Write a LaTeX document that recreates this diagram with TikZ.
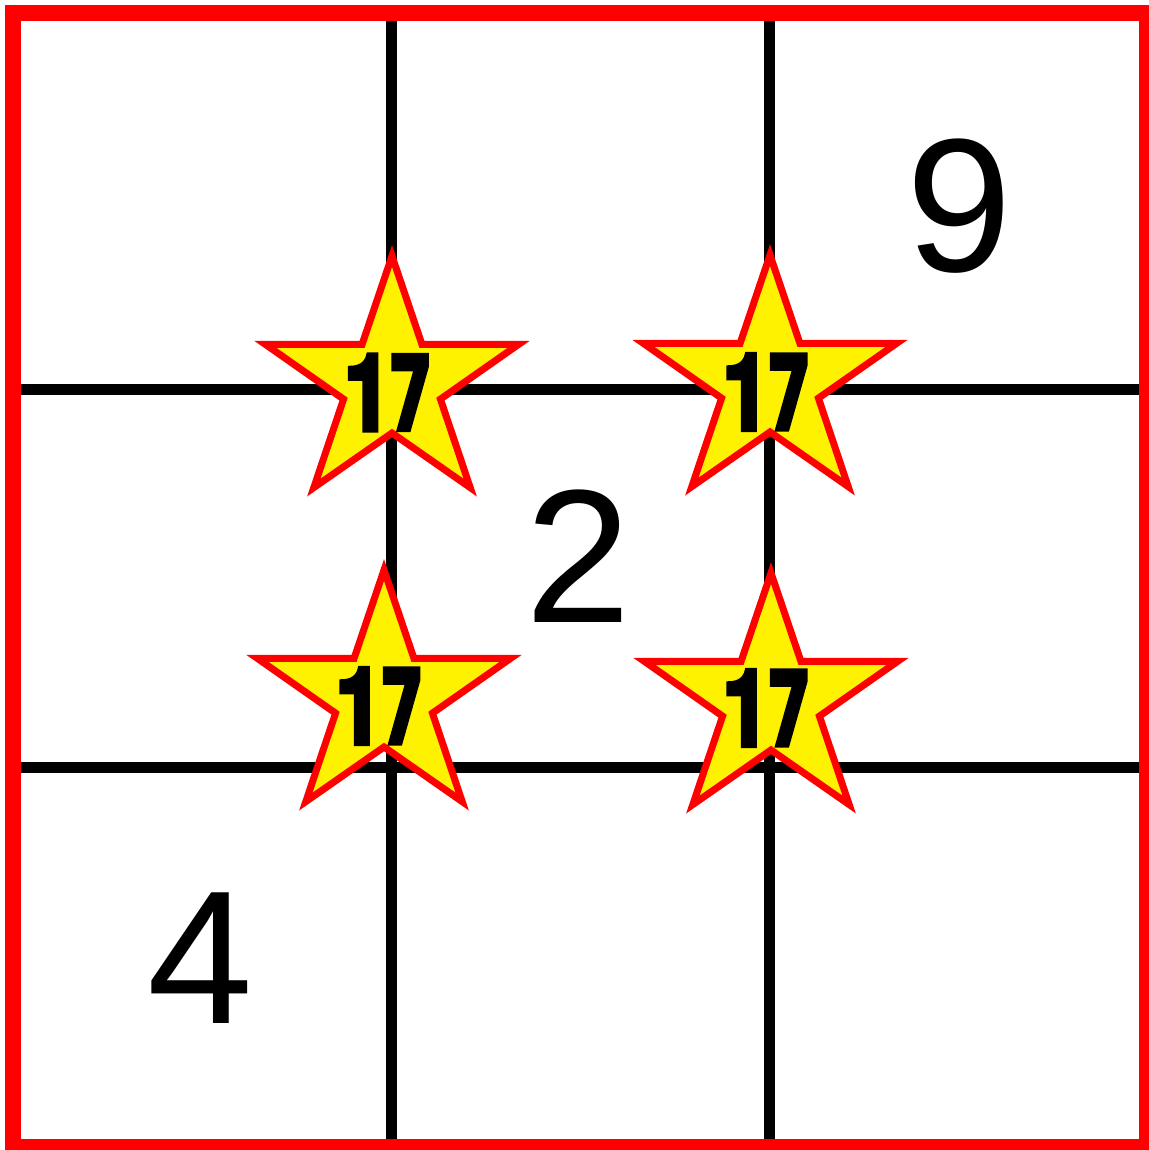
\documentclass[tikz,border=0pt]{standalone}
\usepackage{fontspec}
\setmainfont{Liberation Sans}
\newfontfamily\heavyfont{TeX Gyre Heros}[FakeBold=5]
\newfontfamily\sevenfont{DejaVu Sans}[FakeBold=4]
\newcommand{\seventeen}{\scalebox{0.8}[1]{\heavyfont\bfseries\fontsize{53pt}{53pt}\selectfont 1}\kern-1.5pt\scalebox{0.62}[1]{\sevenfont\bfseries\fontsize{51.5pt}{51.5pt}\selectfont 7}}
\begin{document}
\begin{tikzpicture}[x=0.5pt,y=-0.5pt,
  gridline/.style={line width=5.5pt,black},
  frameline/.style={line width=8pt,red},
  starline/.style={line width=3.5pt,draw=red,fill=yellow,line join=miter},
  bignum/.style={inner sep=0pt,font=\fontsize{95pt}{95pt}\selectfont},
  starnum/.style={inner sep=0pt},
  starpic/.pic={\path[starline] (-90:128) \foreach \k in {0,...,4}{ -- ({-54+72*\k}:49) -- ({-18+72*\k}:128)} -- cycle;}
]
\useasboundingbox (0,0) rectangle (1149,1150);
% grid
\coordinate (tl) at (13,13);
\coordinate (br) at (1147,1147);
\draw[gridline] (391,13) -- (391,1147);
\draw[gridline] (769,13) -- (769,1147);
\draw[gridline] (13,389) -- (1147,389);
\draw[gridline] (13,767) -- (1147,767);
\draw[frameline] (tl) rectangle (br);
% stars
\pic[xscale=1.039] at (392,384) {starpic};
\pic[xscale=1.039] at (770,383) {starpic};
\pic[xscale=1.039] at (384,698) {starpic};
\pic[xscale=1.039] at (771,701) {starpic};
\node[starnum] (n1) at (388.5,392.5) {\seventeen};
\node[starnum] (n2) at (767,392) {\seventeen};
\node[starnum] (n3) at (380,706) {\seventeen};
\node[starnum] (n4) at (767,708) {\seventeen};
% numbers
\node[bignum] (nine) at (959,206) {9};
\node[bignum] (two) at (578,556) {2};
\node[bignum] (four) at (200,958) {4};
\end{tikzpicture}
\end{document}
